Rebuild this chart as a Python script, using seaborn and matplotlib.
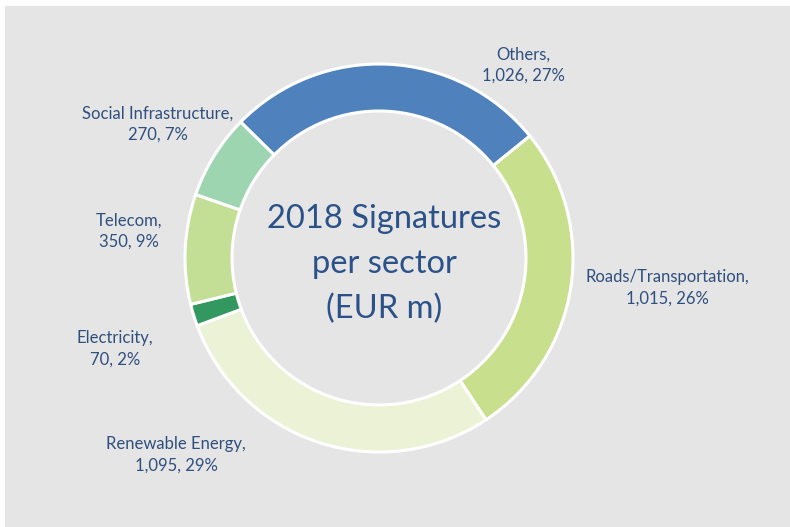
import matplotlib
matplotlib.use("Agg")
import matplotlib.pyplot as plt
import seaborn as sns
from matplotlib.patches import Rectangle

# data (clockwise from top)
sectors = ["Others", "Roads/Transportation", "Renewable Energy",
           "Electricity", "Telecom", "Social Infrastructure"]
amounts = [1026, 1015, 1095, 70, 350, 270]
shares = [27, 26, 29, 2, 9, 7]
colors = ["#4f81bd", "#c8e08e", "#ebf2d6", "#33985f", "#c3df95", "#9ed5b1"]

# label anchor points in pixels (x, y from top)
label_pos = [(523, 65), (667, 288), (176, 455), (115, 349), (129, 231), (158, 124)]

sns.set_theme(style="white", rc={"figure.facecolor": "white"})
plt.rcParams["font.family"] = ["Lato", "DejaVu Sans"]

W, H = 790, 527
bg = "#e5e5e5"
txt = "#2f4f7f"

fig = plt.figure(figsize=(W / 100, H / 100), dpi=100)
ax = fig.add_axes([0, 0, 1, 1])
ax.patch.set_alpha(0)
ax.add_patch(Rectangle((5, 0), W - 5, H - 6, facecolor=bg,
                       edgecolor="none", zorder=-10))

cx, cy, r = 379, H - 258, 194
ax.pie(amounts, radius=r, center=(cx, cy), startangle=135.5, counterclock=False,
       colors=colors,
       wedgeprops=dict(width=47, edgecolor="white", linewidth=2.2))

for name, amt, pct, (x, y) in zip(sectors, amounts, shares, label_pos):
    ax.text(x, H - y, f"{name},\n{amt:,}, {pct}%", ha="center", va="center",
            fontsize=12, color=txt, linespacing=1.4)

ax.text(384, H - 264, "2018 Signatures\nper sector\n(EUR m)", ha="center",
        va="center", fontsize=23.5, color="#2b5189", linespacing=1.6)

ax.set_xlim(0, W)
ax.set_ylim(0, H)
ax.set_aspect("auto")
ax.axis("off")

fig.savefig("out.png", dpi=100)
